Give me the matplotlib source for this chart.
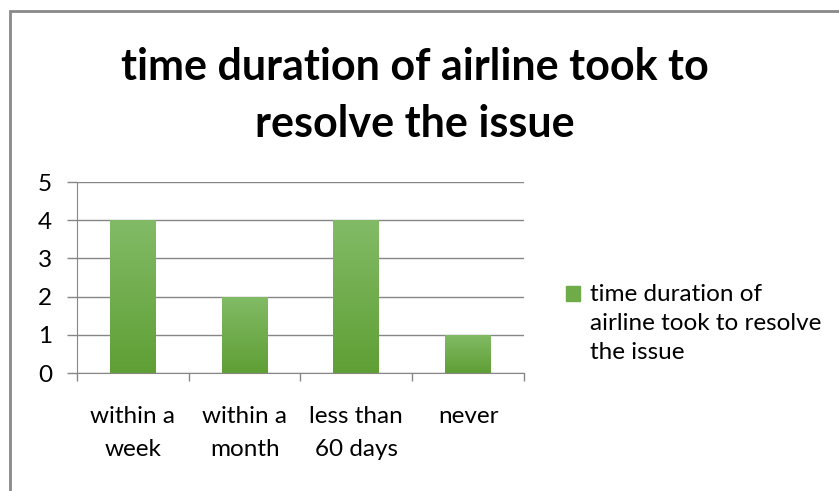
import numpy as np
import matplotlib.pyplot as plt
from matplotlib.patches import Rectangle
from matplotlib.legend_handler import HandlerPatch

# datos del grafico
categorias = ['within a\nweek', 'within a\nmonth', 'less than\n60 days', 'never']
valores = [4, 2, 4, 1]
serie = 'time duration of\nairline took to resolve\nthe issue'
titulo = 'time duration of airline took to\nresolve the issue'

plt.rcParams['font.family'] = ['Lato', 'DejaVu Sans']
gris = '#868686'
verde = '#6fab48'
fs = 17.5

fig = plt.figure(figsize=(8.39, 4.91), dpi=100)
ax = fig.add_axes([0.0918, 0.2403, 0.5327, 0.389])

x = np.arange(len(valores))
barras = ax.bar(x, valores, width=0.41, color=verde, zorder=2, label=serie)

# degradado verde dentro de cada barra
grad = np.linspace(0, 1, 256).reshape(-1, 1)
cmap = plt.matplotlib.colors.LinearSegmentedColormap.from_list('verde', ['#5f9f35', '#82bb66'])
for b in barras:
    x0, y0 = b.get_x(), b.get_y()
    im = ax.imshow(grad, cmap=cmap, origin='lower', aspect='auto', zorder=3,
                   extent=[x0, x0 + b.get_width(), y0, y0 + b.get_height()])
    im.set_clip_path(b)

ax.set_xlim(-0.5, len(valores) - 0.5)
ax.set_ylim(0, 5)
ax.set_yticks(range(6))
ax.yaxis.grid(True, color=gris, linewidth=1.0)
ax.set_axisbelow(True)

for s in ['top', 'right']:
    ax.spines[s].set_visible(False)
ax.spines['left'].set_color(gris)
ax.spines['bottom'].set_color(gris)

ax.set_xticks(x)
ax.set_xticklabels(categorias, fontsize=fs, linespacing=1.7)
ax.set_xticks(np.arange(len(valores) + 1) - 0.5, minor=True)
ax.tick_params(axis='x', which='major', length=0, pad=23.5)
ax.tick_params(axis='x', which='minor', length=6, color=gris, width=1)
ax.tick_params(axis='y', length=7, color=gris, width=1, labelsize=fs, pad=11)

fig.text(0.495, 0.805, titulo, ha='center', va='center', fontsize=31,
         fontweight='bold', linespacing=1.52)

# cuadrito de la leyenda alineado con la primera linea
paso = 29.5 * 72 / 100


def cuadro(legend, orig_handle, xdescent, ydescent, width, height, fontsize):
    return Rectangle((-xdescent, -ydescent + paso), width, height)


h = Rectangle((0, 0), 1, 1, color=verde)
leg = fig.legend([h], [serie], loc='upper left', bbox_to_anchor=(0.6745, 0.422),
                 frameon=False, fontsize=fs, handlelength=0.58, handleheight=0.58,
                 handletextpad=0.4, borderpad=0, borderaxespad=0, labelspacing=0,
                 handler_map={Rectangle: HandlerPatch(patch_func=cuadro)})
leg.get_texts()[0].set_linespacing(1.47)

# marco del grafico
fig.patches.append(Rectangle((9.5 / 839, -0.1), 1.1, 1 - 11 / 491 + 0.1,
                             transform=fig.transFigure, fill=False,
                             edgecolor='#898989', linewidth=2))

fig.savefig('out.png')
